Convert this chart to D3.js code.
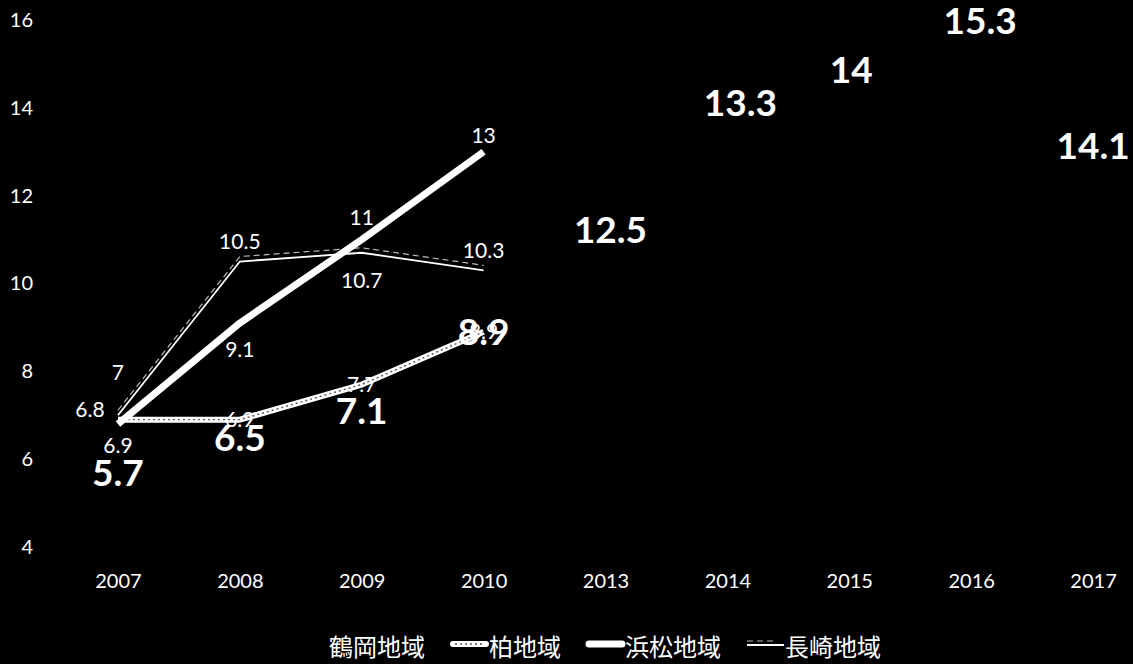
<!DOCTYPE html>
<html>
<head>
<meta charset="utf-8">
<script src="https://cdn.jsdelivr.net/npm/d3@7"></script>
<style>
    html, body { margin: 0; padding: 0; background: #000; }
    svg { display: block; }
    .tick text { fill: #fff; font-family: Lato, sans-serif; font-size: 20px; }
</style>
</head>
<body>
<div id="chart"></div>
<script>
// Chart data
const years = ["2007", "2008", "2009", "2010", "2013", "2014", "2015", "2016", "2017"];
const yTicks = [4, 6, 8, 10, 12, 14, 16];

const seriesNames = ["鶴岡地域", "柏地域", "浜松地域", "長崎地域"];
const tsuruoka = [5.7, 6.5, 7.1, 8.9, 12.5, 13.3, 14, 15.3, 14.1];
const kashiwa = [6.9, 6.9, 7.7, 8.9];
const hamamatsu = [6.8, 9.1, 11, 13];
const nagasaki = [7, 10.5, 10.7, 10.3];

// label nudges (px) where the original labels were moved by hand
const tsuruokaLabelShift = [[0, 0], [0, 0], [0, 0], [0, 0], [5, 56], [13, -36], [2, -38], [9, -30], [0, 42]];
const kashiwaLabelShift = [[0, 26], [0, 0], [0, 0], [0, 0]];
const hamamatsuLabelShift = [[-28, -15], [0, 26], [0, -22], [0, -16]];
const nagasakiLabelShift = [[0, -43], [0, -20], [0, 28], [0, -20]];

const width = 1133, height = 664;

const svg = d3.select("#chart").append("svg")
    .attr("width", width)
    .attr("height", height);

svg.append("rect")
    .attr("width", width)
    .attr("height", height)
    .attr("fill", "#000");

const x = d3.scalePoint()
    .domain(years)
    .range([57, 1154])
    .padding(0.5);

const y = d3.scaleLinear()
    .domain([4, 16])
    .range([547, 20]);

// axes: labels only
svg.append("g")
    .attr("transform", "translate(33,0)")
    .call(d3.axisLeft(y).tickValues(yTicks).tickSize(0).tickPadding(0))
    .call(g => g.select(".domain").remove());

svg.append("g")
    .attr("transform", "translate(0,574)")
    .call(d3.axisBottom(x).tickSize(0).tickPadding(0))
    .call(g => g.select(".domain").remove());

function pts(values) {
    return values.map((v, i) => ({year: years[i], value: v, i: i}));
}

const line = d3.line()
    .x(d => x(d.year))
    .y(d => y(d.value));

function smallLabels(values, shift) {
    svg.append("g").selectAll("text")
        .data(pts(values))
        .join("text")
        .attr("x", d => x(d.year) + shift[d.i][0])
        .attr("y", d => y(d.value) + shift[d.i][1])
        .attr("dy", "0.36em")
        .attr("text-anchor", "middle")
        .attr("fill", "#fff")
        .style("font-family", "Lato, sans-serif")
        .style("font-size", "21px")
        .text(d => d.value);
}

// 柏地域: labels sit under its line
smallLabels(kashiwa, kashiwaLabelShift);

svg.append("path")
    .datum(pts(kashiwa))
    .attr("d", line)
    .attr("fill", "none")
    .attr("stroke", "#fff")
    .attr("stroke-width", 6)
    .attr("stroke-linejoin", "round");
svg.append("path")
    .datum(pts(kashiwa))
    .attr("d", line)
    .attr("fill", "none")
    .attr("stroke", "#555")
    .attr("stroke-width", 1.4)
    .attr("stroke-dasharray", "2,3");

// 長崎地域: thin line with a dashed shadow above it
svg.append("path")
    .datum(pts(nagasaki))
    .attr("d", line)
    .attr("transform", "translate(0,-5)")
    .attr("fill", "none")
    .attr("stroke", "#bbb")
    .attr("stroke-width", 1.2)
    .attr("stroke-dasharray", "6,4");
svg.append("path")
    .datum(pts(nagasaki))
    .attr("d", line)
    .attr("fill", "none")
    .attr("stroke", "#fff")
    .attr("stroke-width", 1.8);

// 浜松地域: thick solid line
svg.append("path")
    .datum(pts(hamamatsu))
    .attr("d", line)
    .attr("fill", "none")
    .attr("stroke", "#fff")
    .attr("stroke-width", 7)
    .attr("stroke-linejoin", "round");

smallLabels(nagasaki, nagasakiLabelShift);
smallLabels(hamamatsu, hamamatsuLabelShift);

// 鶴岡地域: no line, big bold labels
svg.append("g").selectAll("text")
    .data(pts(tsuruoka))
    .join("text")
    .attr("x", d => x(d.year) + tsuruokaLabelShift[d.i][0])
    .attr("y", d => y(d.value) + tsuruokaLabelShift[d.i][1])
    .attr("dy", "0.36em")
    .attr("text-anchor", "middle")
    .attr("fill", "#fff")
    .style("font-family", "Lato, sans-serif")
    .style("font-weight", "bold")
    .style("font-size", "37px")
    .text(d => d.value);

// legend
const legend = svg.append("g");
const symW = 37, gap = 26;
const items = legend.selectAll("g")
    .data(seriesNames)
    .join("g");

items.append("text")
    .attr("x", symW + 1)
    .attr("y", 645)
    .attr("dominant-baseline", "central")
    .attr("fill", "#fff")
    .style("font-family", "'Noto Sans CJK JP', sans-serif")
    .style("font-size", "24px")
    .text(d => d);

let cursor = 0;
const offsets = [];
items.each(function() {
    offsets.push(cursor);
    const w = d3.select(this).select("text").node().getComputedTextLength();
    cursor += symW + 1 + w + gap;
});
const legendStart = 291;
items.attr("transform", (d, i) => "translate(" + (legendStart + offsets[i]) + ",0)");

items.each(function(d, i) {
    const g = d3.select(this);
    if (i === 1) {
        g.append("line").attr("x1", 2).attr("x2", symW - 2).attr("y1", 644).attr("y2", 644)
            .attr("stroke", "#fff").attr("stroke-width", 6).attr("stroke-linecap", "round");
        g.append("line").attr("x1", 4).attr("x2", symW - 4).attr("y1", 644).attr("y2", 644)
            .attr("stroke", "#555").attr("stroke-width", 1.4).attr("stroke-dasharray", "2,3");
    } else if (i === 2) {
        g.append("line").attr("x1", 2).attr("x2", symW - 2).attr("y1", 644).attr("y2", 644)
            .attr("stroke", "#fff").attr("stroke-width", 7).attr("stroke-linecap", "round");
    } else if (i === 3) {
        g.append("line").attr("x1", 0).attr("x2", symW - 8).attr("y1", 641).attr("y2", 641)
            .attr("stroke", "#bbb").attr("stroke-width", 1.2).attr("stroke-dasharray", "6,4");
        g.append("line").attr("x1", 0).attr("x2", symW).attr("y1", 645).attr("y2", 645)
            .attr("stroke", "#fff").attr("stroke-width", 1.8);
    }
});
</script>
</body>
</html>
